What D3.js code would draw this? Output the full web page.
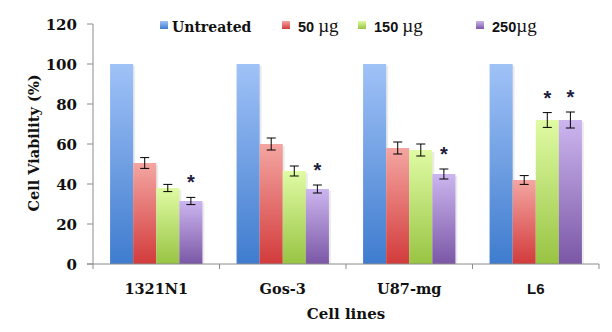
<!DOCTYPE html>
<html>
<head>
<meta charset="utf-8">
<script src="https://cdn.jsdelivr.net/npm/d3@7"></script>
<style>
  body { margin: 0; background: #fff; }
  svg { display: block; }
  .serif { font-family: "DejaVu Serif", serif; font-weight: bold; }
  .sans  { font-family: "Liberation Sans", Arial, sans-serif; font-weight: bold; }
</style>
</head>
<body>
<svg id="chart" width="612" height="332"></svg>
<script>
// ── Data ────────────────────────────────────────────────────────────────────
const cellLines = ['1321N1', 'Gos-3', 'U87-mg', 'L6'];
const doses     = ['Untreated', '50', '150', '250'];

const untreated = [100, 100, 100, 100];
const dose50    = [50.5, 60, 58, 42];
const dose150   = [38, 46.5, 57, 72];
const dose250   = [31.5, 37.5, 45, 72];

const err50     = [2.7, 3, 3, 2.2];
const err150    = [1.8, 2.5, 3, 3.7];
const err250    = [1.8, 2, 2.5, 4];

// which dose (index into doses) gets an asterisk, per cell line
const starred   = [[3], [3], [3], [2, 3]];

const yTicks    = [0, 20, 40, 60, 80, 100, 120];

const values = [untreated, dose50, dose150, dose250];
const errors = [null, err50, err150, err250];

// ── Layout ─────────────────────────────────────────────────────────────────
const svg = d3.select('#chart');
const X0 = 93, X1 = 599, Y0 = 264, Y1 = 24;

const x = d3.scaleBand().domain(cellLines).range([X0, X1])
  .paddingInner(0.27).paddingOuter(0.135);
const xs = d3.scaleBand().domain(doses).range([0, x.bandwidth()]);
const y = d3.scaleLinear().domain([0, 120]).range([Y0, Y1]);

// gradients: [top, bottom]
const grads = [
  ['#a0c2f7', '#3f7cce'],
  ['#f4a6a2', '#d23b3b'],
  ['#e0fba4', '#98c443'],
  ['#ccb6ef', '#7b57a6']
];
const defs = svg.append('defs');
grads.forEach((g, i) => {
  const lg = defs.append('linearGradient').attr('id', 'g' + i)
    .attr('x1', 0).attr('y1', 0).attr('x2', 0).attr('y2', 1);
  lg.append('stop').attr('offset', '0%').attr('stop-color', g[0]);
  lg.append('stop').attr('offset', '100%').attr('stop-color', g[1]);
});

// ── Bars ───────────────────────────────────────────────────────────────────
const rows = [];
cellLines.forEach((c, ci) => {
  doses.forEach((d, di) => {
    rows.push({ c, d, di, v: values[di][ci], e: errors[di] ? errors[di][ci] : 0,
      star: starred[ci].includes(di) });
  });
});

const bars = svg.append('g');
// soft right shadow
bars.selectAll('rect.sh').data(rows).join('rect')
  .attr('class', 'sh')
  .attr('x', r => x(r.c) + xs(r.d) + 2)
  .attr('y', r => y(r.v) + 2)
  .attr('width', xs.bandwidth())
  .attr('height', r => Y0 - y(r.v) - 2)
  .attr('fill', '#000').attr('opacity', 0.08);

bars.selectAll('rect.bar').data(rows).join('rect')
  .attr('class', 'bar')
  .attr('x', r => x(r.c) + xs(r.d))
  .attr('y', r => y(r.v))
  .attr('width', xs.bandwidth())
  .attr('height', r => Y0 - y(r.v))
  .attr('fill', r => `url(#g${r.di})`);

// ── Error bars ─────────────────────────────────────────────────────────────
const eb = svg.append('g').attr('stroke', '#000').attr('stroke-width', 1);
rows.filter(r => r.e > 0).forEach(r => {
  const cx = x(r.c) + xs(r.d) + xs.bandwidth() / 2;
  const t = y(r.v + r.e), b = y(r.v - r.e);
  eb.append('line').attr('x1', cx).attr('x2', cx).attr('y1', t).attr('y2', b);
  eb.append('line').attr('x1', cx - 4.5).attr('x2', cx + 4.5).attr('y1', t).attr('y2', t);
  eb.append('line').attr('x1', cx - 4.5).attr('x2', cx + 4.5).attr('y1', b).attr('y2', b);
});

// asterisks
svg.append('g').selectAll('text').data(rows.filter(r => r.star)).join('text')
  .attr('class', 'sans')
  .attr('x', r => x(r.c) + xs(r.d) + xs.bandwidth() / 2)
  .attr('y', r => y(r.v + r.e) - 8)
  .attr('text-anchor', 'middle')
  .attr('font-size', 20)
  .attr('fill', '#1c1c3c')
  .text('*');

// ── Axes ───────────────────────────────────────────────────────────────────
const axisCol = '#8c8c8c';
const yAxis = svg.append('g');
yAxis.append('line').attr('x1', X0).attr('x2', X0).attr('y1', Y1).attr('y2', Y0)
  .attr('stroke', axisCol);
yAxis.selectAll('line.t').data(yTicks).join('line').attr('class', 't')
  .attr('x1', X0 - 6).attr('x2', X0).attr('y1', d => y(d)).attr('y2', d => y(d))
  .attr('stroke', axisCol);
yAxis.selectAll('text').data(yTicks).join('text')
  .attr('class', 'serif').attr('font-size', 15)
  .attr('x', X0 - 16).attr('y', d => y(d) + 5.5)
  .attr('text-anchor', 'end').attr('fill', '#111')
  .text(d => d);

const xAxis = svg.append('g');
xAxis.append('line').attr('x1', X0 - 6).attr('x2', X1).attr('y1', Y0).attr('y2', Y0)
  .attr('stroke', axisCol);
const bounds = d3.range(cellLines.length + 1).map(i => X0 + i * x.step());
xAxis.selectAll('line.t').data(bounds).join('line').attr('class', 't')
  .attr('x1', d => d).attr('x2', d => d).attr('y1', Y0).attr('y2', Y0 + 5)
  .attr('stroke', axisCol);
xAxis.selectAll('text').data(cellLines).join('text')
  .attr('class', d => d === 'L6' ? 'sans' : 'serif')
  .attr('font-size', d => d === 'L6' ? 15 : 14.5)
  .attr('x', d => x(d) + x.bandwidth() / 2)
  .attr('y', 294)
  .attr('text-anchor', 'middle').attr('fill', '#111')
  .text(d => d);

svg.append('text').attr('class', 'serif').attr('font-size', 15)
  .attr('x', (X0 + X1) / 2).attr('y', 319).attr('text-anchor', 'middle')
  .attr('fill', '#111').text('Cell lines');

svg.append('text').attr('class', 'serif').attr('font-size', 14.5)
  .attr('transform', `translate(39,143) rotate(-90)`)
  .attr('text-anchor', 'middle').attr('fill', '#111')
  .text('Cell Viability (%)');

// ── Legend ─────────────────────────────────────────────────────────────────
const legX = [160, 282, 358, 476];
const leg = svg.append('g');
doses.forEach((d, i) => {
  leg.append('rect').attr('x', legX[i]).attr('y', 21).attr('width', 8).attr('height', 8)
    .attr('fill', `url(#g${i})`);
  if (i === 0) {
    leg.append('text').attr('class', 'serif').attr('font-size', 14)
      .attr('x', legX[i] + 12).attr('y', 32).attr('fill', '#111').text(d);
  } else {
    const t = leg.append('text').attr('x', legX[i] + 16).attr('y', 32)
      .attr('fill', '#111');
    t.append('tspan').attr('class', 'sans').attr('font-size', 14.5).text(d + (i === 3 ? '' : ' '));
    t.append('tspan').attr('font-family', '"Liberation Serif", serif')
      .attr('font-size', 19).text('\u00b5g');
  }
});
</script>
</body>
</html>
